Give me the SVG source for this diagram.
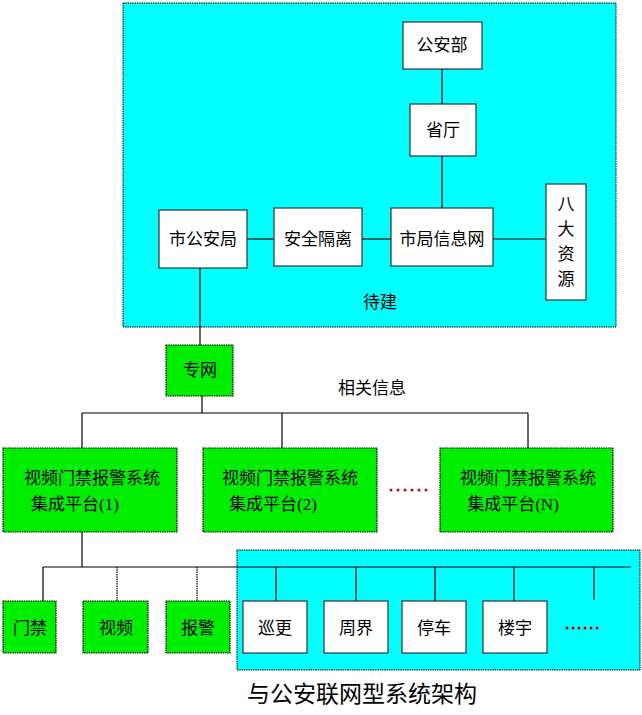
<svg xmlns="http://www.w3.org/2000/svg" width="642" height="715" viewBox="0 0 642 715">
<style>
text{font-family:"Liberation Serif","Noto Sans CJK SC",serif;font-size:17px;text-anchor:middle;fill:#000}
.w{fill:#fff;stroke:#333;stroke-width:1.2}
.g{fill:#00ee00;stroke:#000;stroke-width:1.2;stroke-dasharray:1.5 0.8}
.c{fill:#00ffff;stroke:#000;stroke-width:1;stroke-dasharray:1.5 0.8}
#conn line{stroke:#000;stroke-width:1.2}
</style>
<rect width="642" height="715" fill="#fff"/>
<g id="zone1"><rect class="c" x="123" y="3" width="493" height="324"/><text x="380" y="308">待建</text></g>
<g id="zone2"><rect class="c" x="237" y="550" width="403" height="120"/></g>
<g id="conn">
<line x1="442" y1="69" x2="442" y2="104"/>
<line x1="442" y1="156" x2="442" y2="208"/>
<line x1="247" y1="239" x2="274" y2="239"/>
<line x1="362" y1="239" x2="391" y2="239"/>
<line x1="493" y1="239" x2="546" y2="239"/>
<line x1="200" y1="268" x2="200" y2="345"/>
<line x1="202" y1="396" x2="202" y2="413"/>
<line x1="82" y1="413" x2="528" y2="413"/>
<line x1="82" y1="413" x2="82" y2="448"/>
<line x1="282" y1="413" x2="282" y2="448"/>
<line x1="528" y1="413" x2="528" y2="448"/>
<line x1="82" y1="532" x2="82" y2="567"/>
<line x1="43" y1="567" x2="631" y2="567"/>
<line x1="43" y1="567" x2="43" y2="601"/>
<line x1="117" y1="567" x2="117" y2="601" stroke-dasharray="1.5 0.8"/>
<line x1="197" y1="567" x2="197" y2="601" stroke-dasharray="1.5 0.8"/>
<line x1="276" y1="567" x2="276" y2="601"/>
<line x1="356" y1="567" x2="356" y2="601"/>
<line x1="435" y1="567" x2="435" y2="601"/>
<line x1="514" y1="567" x2="514" y2="601"/>
<line x1="594" y1="567" x2="594" y2="600"/>
</g>
<g id="gab"><rect class="w" x="403" y="22" width="79" height="47"/><text x="442" y="51">公安部</text></g>
<g id="st"><rect class="w" x="410" y="104" width="66" height="52"/><text x="443" y="136">省厅</text></g>
<g id="sgaj"><rect class="w" x="159" y="210" width="88" height="58"/><text x="203" y="245">市公安局</text></g>
<g id="aqgl"><rect class="w" x="274" y="208" width="88" height="58"/><text x="318" y="245">安全隔离</text></g>
<g id="sjxxw"><rect class="w" x="391" y="208" width="102" height="58"/><text x="442" y="245">市局信息网</text></g>
<g id="bdzy"><rect class="w" x="546" y="184" width="40" height="116"/>
<text x="566" y="210">八</text><text x="566" y="235">大</text><text x="566" y="260">资</text><text x="566" y="285">源</text></g>
<g id="zw"><rect class="g" x="166" y="345" width="67" height="51"/><text x="200" y="376">专网</text></g>
<text x="372" y="394">相关信息</text>
<g id="p1"><rect class="g" x="3" y="448" width="174" height="84"/><text x="92" y="484">视频门禁报警系统</text><text x="75" y="510">集成平台(1)</text></g>
<g id="p2"><rect class="g" x="203" y="448" width="174" height="84"/><text x="290" y="484">视频门禁报警系统</text><text x="273" y="510">集成平台(2)</text></g>
<g id="pn"><rect class="g" x="440" y="448" width="173" height="84"/><text x="528" y="484">视频门禁报警系统</text><text x="513" y="510">集成平台(N)</text></g>
<g fill="#d00000"><circle cx="391" cy="490" r="1.5"/><circle cx="398" cy="490" r="1.5"/><circle cx="405" cy="490" r="1.5"/><circle cx="412" cy="490" r="1.5"/><circle cx="419" cy="490" r="1.5"/><circle cx="426" cy="490" r="1.5"/></g>
<g id="mj"><rect class="g" x="3" y="601" width="53" height="52"/><text x="30" y="634">门禁</text></g>
<g id="sp"><rect class="g" x="83" y="601" width="65" height="52"/><text x="116" y="634">视频</text></g>
<g id="bj"><rect class="g" x="166" y="601" width="64" height="52"/><text x="198" y="634">报警</text></g>
<g id="xg"><rect class="w" x="243" y="601" width="64" height="52"/><text x="275" y="634">巡更</text></g>
<g id="zj"><rect class="w" x="324" y="601" width="64" height="52"/><text x="356" y="634">周界</text></g>
<g id="tc"><rect class="w" x="402" y="601" width="64" height="52"/><text x="434" y="634">停车</text></g>
<g id="ly"><rect class="w" x="483" y="601" width="64" height="52"/><text x="515" y="634">楼宇</text></g>
<g fill="#d00000"><circle cx="567" cy="628" r="1.5"/><circle cx="573" cy="628" r="1.5"/><circle cx="579" cy="628" r="1.5"/><circle cx="585" cy="628" r="1.5"/><circle cx="591" cy="628" r="1.5"/><circle cx="597" cy="628" r="1.5"/></g>
<text x="362" y="702" style="font-size:23px">与公安联网型系统架构</text>
</svg>
